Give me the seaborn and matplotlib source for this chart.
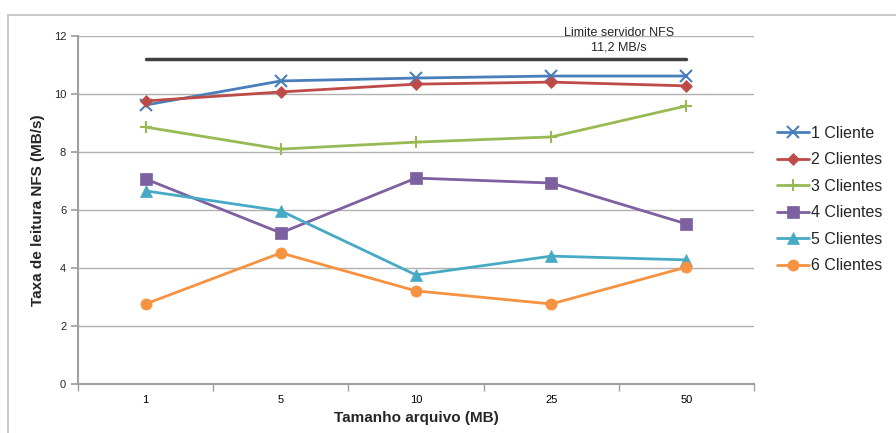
import matplotlib
matplotlib.use("Agg")
import matplotlib.pyplot as plt
import seaborn as sns
import pandas as pd
from matplotlib.patches import Rectangle

sizes = ["1", "5", "10", "25", "50"]
c1 = [9.62, 10.45, 10.55, 10.62, 10.62]
c2 = [9.76, 10.07, 10.34, 10.41, 10.28]
c3 = [8.86, 8.10, 8.34, 8.52, 9.59]
c4 = [7.07, 5.21, 7.10, 6.93, 5.52]
c5 = [6.66, 5.97, 3.76, 4.41, 4.28]
c6 = [2.76, 4.52, 3.21, 2.76, 4.03]
limit = [11.2, 11.2, 11.2, 11.2, 11.2]
series_names = ["1 Cliente", "2 Clientes", "3 Clientes", "4 Clientes", "5 Clientes", "6 Clientes"]

colors = ["#4A7EBB", "#BE4B48", "#98B954", "#7D60A0", "#46AAC5", "#F69240"]
markers = ["x", "D", "+", "s", "^", "o"]
msizes = [9, 6, 9, 8, 8, 8]

rows = []
for name, vals in zip(series_names, [c1, c2, c3, c4, c5, c6]):
    for i, v in enumerate(vals):
        rows.append({"pos": i, "val": v, "serie": name})
df = pd.DataFrame(rows)
lim_df = pd.DataFrame({"pos": range(len(sizes)), "val": limit})

sns.set_theme(style="white")
plt.rcParams["font.family"] = ["Liberation Sans", "DejaVu Sans"]

fig = plt.figure(figsize=(8.96, 4.33), dpi=100)
W, H = 896, 433
ax = fig.add_axes([78 / W, (H - 384) / H, (754 - 78) / W, (384 - 36) / H])

fig.patches.append(Rectangle((8 / W, -0.1), 1.2, (H - 15) / H + 0.1, transform=fig.transFigure,
                             fill=False, edgecolor="#BFBFBF", linewidth=1.2))

sns.lineplot(data=lim_df, x="pos", y="val", ax=ax, color="#404040", linewidth=2.5, legend=False)

for name, col, mk, ms in zip(series_names, colors, markers, msizes):
    sub = df[df["serie"] == name]
    sns.lineplot(data=sub, x="pos", y="val", ax=ax, color=col, linewidth=2,
                 marker=mk, markersize=ms, markeredgewidth=1.5 if mk in ("x", "+") else 0.5,
                 markeredgecolor=col, label=name)

ax.set_xlim(-0.5, len(sizes) - 0.5)
ax.set_ylim(0, 12)
ax.set_yticks(range(0, 13, 2))
ax.set_xticks(range(len(sizes)))
ax.set_xticklabels(sizes)
ax.set_xticks([i + 0.5 for i in range(-1, len(sizes))], minor=True)
ax.tick_params(axis="x", which="major", length=0, labelsize=8, pad=8, colors="#000000")
ax.tick_params(axis="x", which="minor", length=5, color="#A0A0A0", direction="out", bottom=True)
ax.tick_params(axis="y", which="major", length=5, color="#A0A0A0", direction="out", labelsize=8, left=True)
ax.yaxis.grid(True, color="#B0B0B0", linewidth=1)
ax.xaxis.grid(False)
for s in ["top", "right"]:
    ax.spines[s].set_visible(False)
for s in ["left", "bottom"]:
    ax.spines[s].set_color("#A0A0A0")
    ax.spines[s].set_linewidth(1.5)

ax.set_xlabel("Tamanho arquivo (MB)", fontsize=11, fontweight="bold", labelpad=4)
ax.set_ylabel("Taxa de leitura NFS (MB/s)", fontsize=11, fontweight="bold", labelpad=6)

ax.text(3.5, 11.85, "Limite servidor NFS\n11,2 MB/s", ha="center", va="center", fontsize=9,
        linespacing=1.2)

leg = ax.legend(loc="center left", bbox_to_anchor=(1.025, 0.53), frameon=False, fontsize=11.5,
                handlelength=2.0, handletextpad=0.1, labelspacing=0.72, borderaxespad=0)

fig.savefig("out.png", dpi=100, facecolor="white")
